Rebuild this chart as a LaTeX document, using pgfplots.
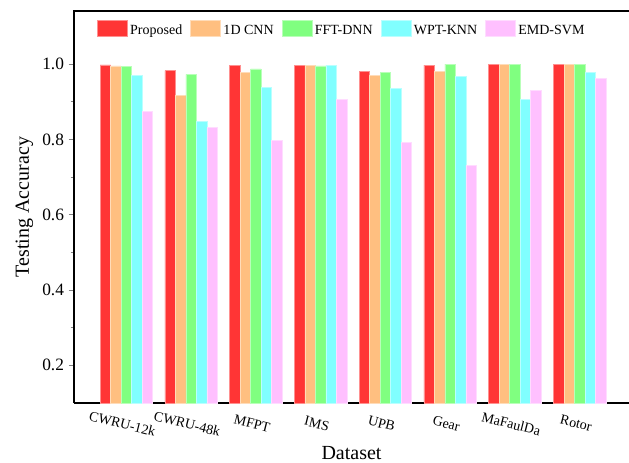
\documentclass[border=0pt]{standalone}
\usepackage{fontspec}
\setmainfont{Liberation Serif}
\usepackage{pgfplots}
\pgfplotsset{compat=1.18}
\definecolor{cP}{HTML}{FF3535}
\definecolor{cC}{HTML}{FFBF80}
\definecolor{cF}{HTML}{80FF80}
\definecolor{cW}{HTML}{80FFFF}
\definecolor{cE}{HTML}{FFC0FF}
\begin{document}
\begin{tikzpicture}
\begin{axis}[
  scale only axis,
  width=416.25pt, height=294pt,
  xmin=-0.807, xmax=7.76,
  ymin=0.1, ymax=1.141,
  axis x line*=bottom, axis y line*=left,
  axis line style={line width=1pt, -},
  ybar=0pt, bar width=0.162,
  xtick={0,1,2,3,4,5,6,7},
  xticklabels={CWRU-12k,CWRU-48k,MFPT,IMS,UPB,Gear,MaFaulDa,Rotor},
  xtick style={draw=none},
  xticklabel style={rotate=-14, anchor=north, font=\fontsize{10.5}{12}\selectfont, yshift=-7pt, inner sep=1pt},
  ytick={0.2,0.4,0.6,0.8,1.0},
  minor y tick num=1,
  tick align=outside,
  major tick length=4pt, minor tick length=2.5pt,
  ytick style={line width=0.8pt},
  /pgf/number format/.cd, fixed, fixed zerofill, precision=1, assume math mode=true,
  /pgfplots/.cd,
  yticklabel style={font=\fontsize{13}{15}\selectfont},
  xlabel={Dataset}, ylabel={Testing Accuracy},
  label style={font=\fontsize{15}{17}\selectfont},
  xlabel style={at={(axis description cs:0.5,0)}, anchor=center, yshift=-37.5pt, inner sep=1pt},
  ylabel style={yshift=0pt},
  legend columns=5,
  legend style={draw=none, fill=none, at={(0.483,0.985)}, anchor=north,
    font=\fontsize{10.5}{12}\selectfont,
    /tikz/every even column/.append style={column sep=4pt}},
  legend image code/.code={\draw[#1] (0pt,-4pt) rectangle (22.5pt,8pt);},
  every axis plot/.append style={line width=0.4pt},
]
\addplot[fill=cP, draw=cP!55!white, bar shift=-0.324] coordinates {(0,0.998) (1,0.983) (2,0.996) (3,0.996) (4,0.981) (5,0.997) (6,1.0) (7,1.0)};
\addplot[fill=cC, draw=cC!55!white, bar shift=-0.162] coordinates {(0,0.995) (1,0.917) (2,0.978) (3,0.996) (4,0.971) (5,0.981) (6,1.0) (7,1.0)};
\addplot[fill=cF, draw=cF!55!white, bar shift=0] coordinates {(0,0.993) (1,0.973) (2,0.987) (3,0.995) (4,0.978) (5,1.0) (6,1.0) (7,1.0)};
\addplot[fill=cW, draw=cW!55!white, bar shift=0.162] coordinates {(0,0.970) (1,0.848) (2,0.939) (3,0.996) (4,0.935) (5,0.967) (6,0.906) (7,0.979)};
\addplot[fill=cE, draw=cE!55!white, bar shift=0.324] coordinates {(0,0.874) (1,0.832) (2,0.797) (3,0.906) (4,0.792) (5,0.732) (6,0.930) (7,0.962)};
\legend{Proposed,1D CNN,FFT-DNN,WPT-KNN,EMD-SVM}
\coordinate (sw) at (rel axis cs:0,0);
\coordinate (ne) at (rel axis cs:1,1);
\coordinate (nw) at (rel axis cs:0,1);
\end{axis}
\draw[line width=1pt] ([xshift=-0.5pt]nw) -- (ne);
\pgfresetboundingbox
\path ([shift={(-55.5pt,-44.25pt)}]sw) rectangle ([shift={(0pt,8.25pt)}]ne);
\end{tikzpicture}
\end{document}
